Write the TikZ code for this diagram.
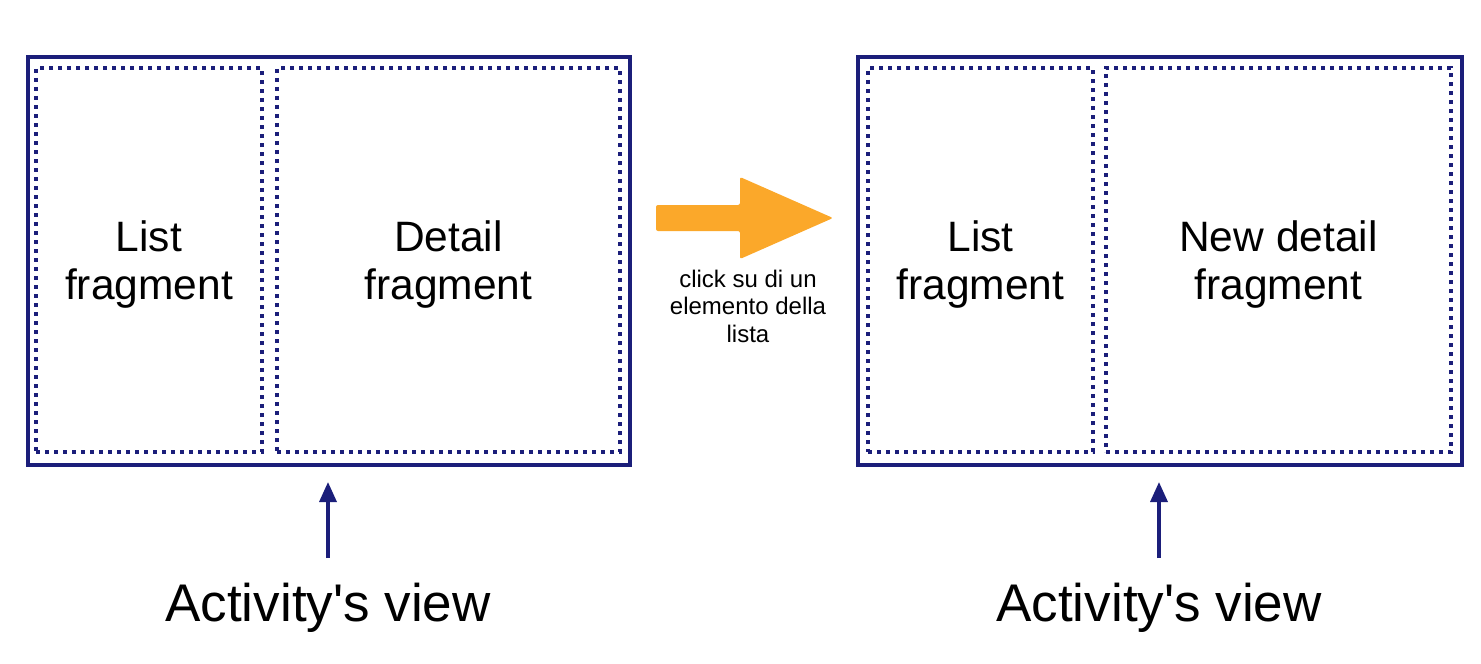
\documentclass[tikz,border=0pt]{standalone}
\usepackage{fontspec}
\setmainfont{Liberation Sans}
\usetikzlibrary{arrows.meta}
\definecolor{navy}{RGB}{27,30,122}
\definecolor{orangearr}{RGB}{251,168,42}
\tikzset{
  outerbox/.style={draw=navy, line width=3.8pt, inner sep=0pt, outer sep=0pt},
  innerbox/.style={draw=navy, line width=4pt, dash pattern=on 3.8pt off 5.2pt, inner sep=0pt, outer sep=0pt},
  frtxt/.style={align=center, font=\fontsize{42.5}{48}\selectfont, inner sep=0pt},
  smalltxt/.style={align=center, font=\fontsize{24}{27.5}\selectfont, inner sep=0pt},
  bigtxt/.style={font=\fontsize{53}{60}\selectfont, inner sep=0pt},
  upnavy/.style={draw=navy, line width=3.4pt, -{Triangle[length=20pt,width=17pt]}, shorten >=17pt},
}
\begin{document}
\begin{tikzpicture}[x=1pt,y=-1pt]
\useasboundingbox (0,0) rectangle (1481,664);
% left
\node[outerbox, minimum width=602pt, minimum height=408pt] (o1) at (329,261) {};
\node[innerbox, minimum width=226pt, minimum height=384pt] (l1) at (149,260) {};
\node[innerbox, minimum width=343pt, minimum height=384pt] (d1) at (448.5,260) {};
\node[frtxt] (tl1) at ([yshift=-5pt]l1.center) {List\\fragment};
\node[frtxt] (td1) at ([yshift=-5pt]d1.center) {Detail\\fragment};
% right
\node[outerbox, minimum width=604pt, minimum height=408pt] (o2) at (1160,261) {};
\node[innerbox, minimum width=225pt, minimum height=384pt] (l2) at (980.5,260) {};
\node[innerbox, minimum width=345pt, minimum height=384pt] (d2) at (1278.5,260) {};
\node[frtxt] (tl2) at ([yshift=-5pt]l2.center) {List\\fragment};
\node[frtxt] (td2) at ([yshift=-5pt]d2.center) {New detail\\fragment};
% orange arrow
\fill[orangearr, rounded corners=2pt] (656,205) -- (740,205) -- (740,177) -- (833,218) -- (740,259) -- (740,231) -- (656,231) -- cycle;
\node[smalltxt] (c) at (748,306) {click su di un\\elemento della\\lista};
% labels
\node[bigtxt] (a1) at (328,608) {Activity\textquotesingle s view};
\node[bigtxt] (a2) at (1159,608) {Activity\textquotesingle s view};
\coordinate (s1) at (328,558);
\coordinate (s2) at (1159,558);
\draw[upnavy] (s1) -- (s1 |- o1.south);
\draw[upnavy] (s2) -- (s2 |- o2.south);
\end{tikzpicture}
\end{document}
